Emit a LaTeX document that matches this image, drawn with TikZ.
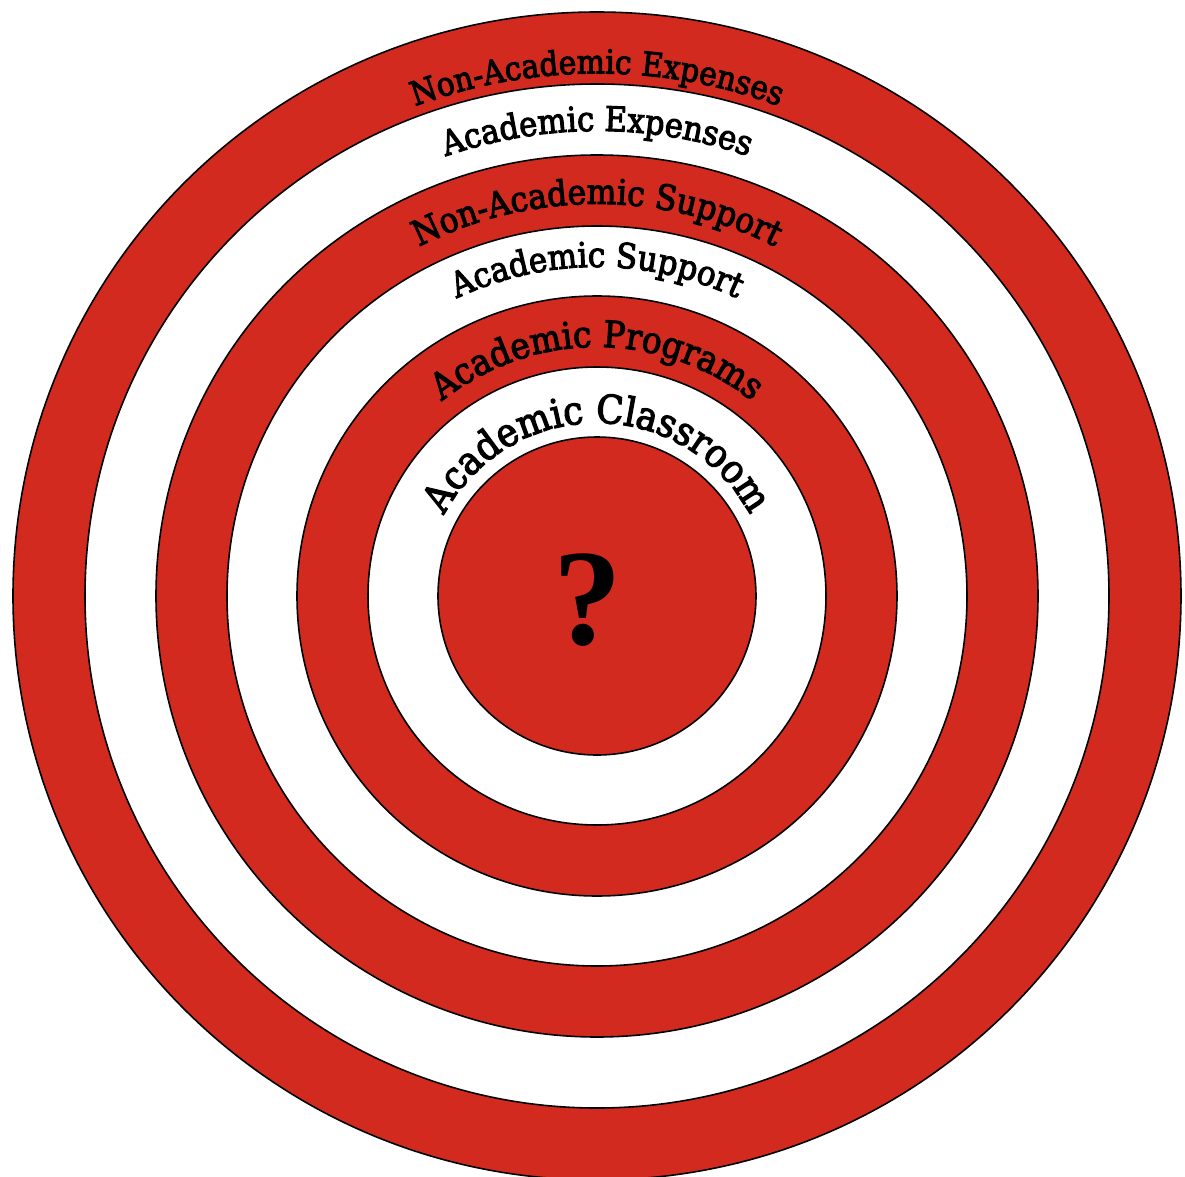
\documentclass[tikz,border=0pt]{standalone}
\usepackage{fontspec}
\setmainfont{Liberation Serif}
\newfontfamily\ringfont[FakeBold=3]{DejaVu Serif Condensed}
\usetikzlibrary{decorations.text}
\definecolor{targetred}{RGB}{210,42,30}

\begin{document}
\begin{tikzpicture}
  % Styles
  \tikzstyle{redring} = [draw=black, line width=0.9pt, fill=targetred]
  \tikzstyle{whitering} = [draw=black, line width=0.9pt, fill=white]
  \tikzstyle{arclabel} = [decorate, decoration={text along path, text align=center}]

  \useasboundingbox (-11.94,-11.6) rectangle (11.76,11.92);

  % Rings
  \foreach \r/\s in {11.68/redring, 10.24/whitering, 8.82/redring, 7.40/whitering, 6.00/redring, 4.58/whitering, 3.18/redring}
    \draw[\s] (0,0) circle (\r);

  % Labels
  \path[arclabel, decoration={text={|\ringfont\fontsize{18.8}{24}\selectfont|Non-Academic Expenses}}] (150:10.45) arc (150:30:10.45);
  \path[arclabel, decoration={text={|\ringfont\fontsize{19.4}{24}\selectfont|Academic Expenses}}] (150:9.3) arc (150:30:9.3);
  \path[arclabel, decoration={text={|\ringfont\fontsize{19.8}{24}\selectfont|Non-Academic Support}}] (160:7.84) arc (160:20:7.84);
  \path[arclabel, decoration={text={|\ringfont\fontsize{19.6}{24}\selectfont|Academic Support}}] (160:6.58) arc (160:20:6.58);
  \path[arclabel, decoration={text={|\ringfont\fontsize{20.8}{24}\selectfont|Academic Programs}}] (170:4.98) arc (170:10:4.98);
  \path[arclabel, decoration={text={|\ringfont\fontsize{22.4}{26}\selectfont|Academic Classroom}}] (179:3.46) arc (179:1:3.46);

  \node (qmark) at (-0.19,-0.08) {\fontsize{78}{80}\selectfont\bfseries ?};
\end{tikzpicture}
\end{document}
